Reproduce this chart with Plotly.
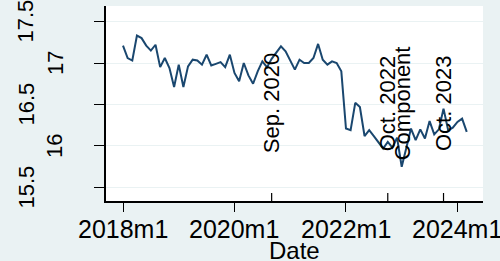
import pandas as pd
import plotly.graph_objects as go

# ---- data ----
values = [
    17.21, 17.06, 17.03, 17.33, 17.30, 17.21, 17.15, 17.22, 16.95, 17.06, 16.94, 16.71,
    16.98, 16.71, 16.96, 17.04, 17.03, 16.98, 17.10, 16.97, 16.99, 17.01, 16.95, 17.10,
    16.88, 16.78, 17.00, 16.85, 16.75, 16.90, 17.02, 16.95, 17.05, 17.12, 17.20, 17.14,
    17.02, 16.92, 17.04, 17.00, 17.00, 17.06, 17.23, 17.04, 16.98, 17.02, 17.00, 16.90,
    16.21, 16.19, 16.52, 16.47, 16.12, 16.19, 16.12, 16.04, 15.97, 16.05, 15.98, 16.10,
    15.75, 15.98, 16.21, 16.07, 16.20, 16.09, 16.30, 16.14, 16.20, 16.45, 16.19, 16.22,
    16.29, 16.33, 16.17,
]
start_month = "2018-01"
x_tick_labels = ["2018m1", "2020m1", "2022m1", "2024m1"]
y_tick_vals = [15.5, 16, 16.5, 17, 17.5]
y_tick_text = ["15.5", "16", "16.5", "17", "17.5"]
event_months = ["2020-09", "2022-10", "2023-10"]
event_labels = [["Sep. 2020"], ["Oct. 2022", "Component"], ["Oct. 2023"]]
x_title = "Date"

# ---- derived ----
periods = pd.period_range(start_month, periods=len(values), freq="M")
x_idx = list(range(len(values)))
stata_labels = [f"{p.year}m{p.month}" for p in periods]
tick_idx = [stata_labels.index(t) for t in x_tick_labels]
p0 = pd.Period(start_month, freq="M")
event_idx = [(pd.Period(m, freq="M") - p0).n for m in event_months]

BG = "#EAF2F3"
LINE = "#1A476F"
FONT = "Liberation Sans, Arial, sans-serif"

fig = go.Figure()
fig.add_trace(go.Scatter(x=x_idx, y=values, mode="lines",
                         line=dict(color=LINE, width=2), hoverinfo="skip"))

fig.update_layout(
    width=500, height=261,
    margin=dict(l=106, r=17, t=6, b=60),
    paper_bgcolor=BG, plot_bgcolor="white",
    showlegend=False,
    font=dict(family=FONT, color="black", size=22),
)
fig.update_xaxes(
    range=[-3.66, 77.5],
    tickmode="array", tickvals=tick_idx, ticktext=x_tick_labels,
    showticklabels=False,
    ticks="outside", ticklen=9, tickwidth=1.2, tickcolor="black",
    showline=True, linecolor="black", linewidth=1.5,
    showgrid=False, zeroline=False,
)
fig.update_yaxes(
    range=[15.337, 17.687],
    tickmode="array", tickvals=y_tick_vals, ticktext=y_tick_text,
    showticklabels=False,
    ticks="outside", ticklen=10, tickwidth=1.2, tickcolor="black",
    showline=True, linecolor="black", linewidth=1.5,
    showgrid=True, gridcolor=BG, gridwidth=1.2, zeroline=False,
)

# x tick labels
for xi, t in zip(tick_idx, x_tick_labels):
    fig.add_annotation(x=xi, xref="x", y=0, yref="paper", yshift=-28,
                       text=t, showarrow=False, xanchor="center", yanchor="middle",
                       font=dict(size=25, family=FONT, color="black"))

# x-axis title
fig.add_annotation(x=0.5, xref="paper", y=0, yref="paper", yshift=-49,
                   text=x_title, showarrow=False, xanchor="center", yanchor="middle",
                   font=dict(size=24, family=FONT, color="black"))

# staggered rotated y tick labels
for i, (v, t) in enumerate(zip(y_tick_vals, y_tick_text)):
    fig.add_annotation(x=0, xref="paper", y=v, yref="y", text=t,
                       textangle=-90, showarrow=False,
                       xanchor="center", yanchor="middle",
                       xshift=(-80 if i % 2 == 0 else -51),
                       font=dict(size=22, family=FONT, color="black"))

# event markers: inward ticks + rotated labels
for ei, labs in zip(event_idx, event_labels):
    fig.add_shape(type="line", xref="x", yref="paper", x0=ei, x1=ei,
                  y0=0, y1=8 / 195, line=dict(color="black", width=1.2))
    for j, lab in enumerate(labs):
        fig.add_annotation(x=ei, xref="x", y=0.5, yref="paper", text=lab,
                           textangle=-90, showarrow=False,
                           xanchor="center", yanchor="middle",
                           xshift=j * 15,
                           font=dict(size=22, family=FONT, color="black"))

fig.write_html(
    "out.html",
    config={"displayModeBar": False},
    post_script="document.body.style.margin='0';document.body.style.overflow='hidden';",
)
